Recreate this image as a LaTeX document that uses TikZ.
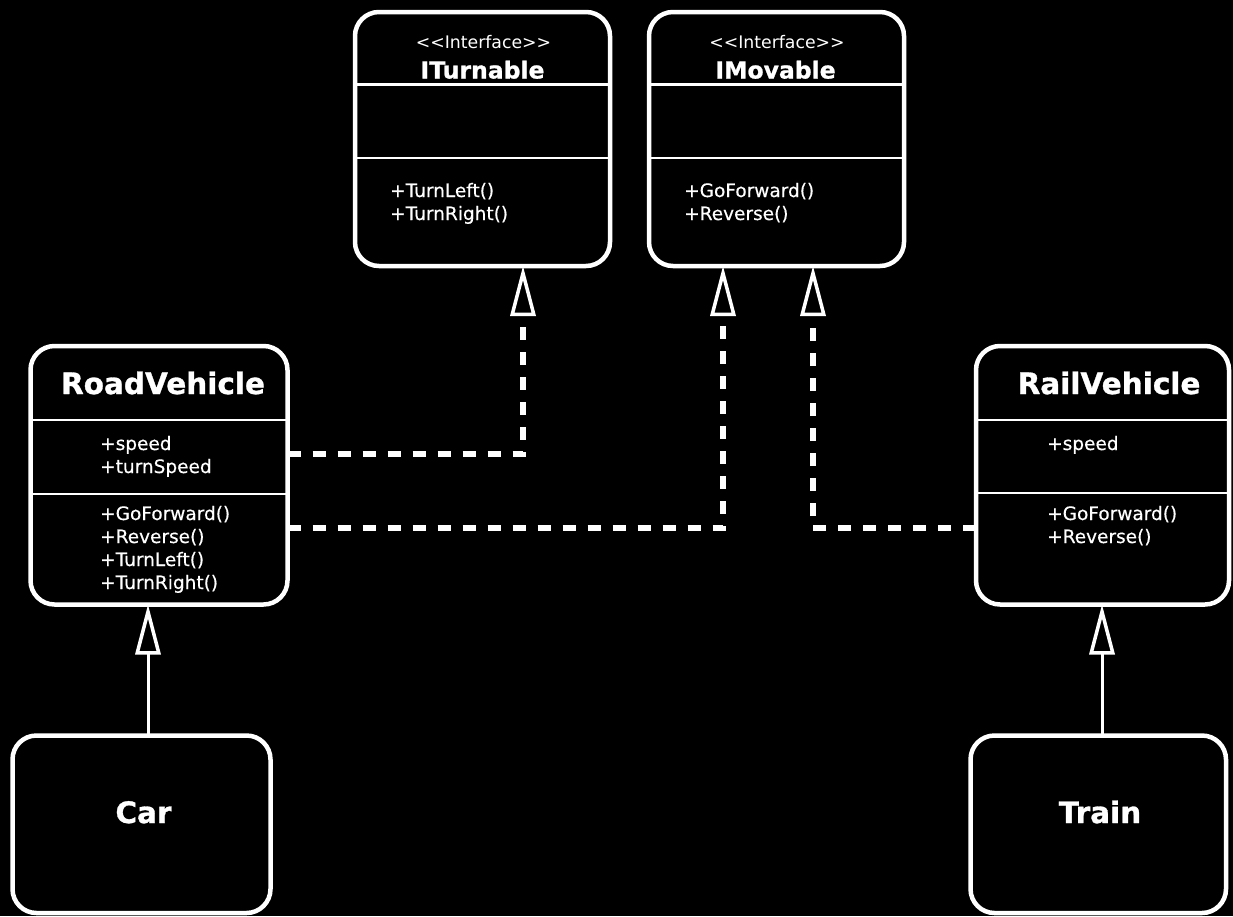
\documentclass[tikz,border=0pt]{standalone}
\usepackage{fontspec}
\setmainfont{DejaVu Sans}
\newfontfamily\heavyfont{DejaVu Sans Bold}[FakeBold=1]
\newfontfamily\medfont{DejaVu Sans}[FakeBold=0.4]
\usetikzlibrary{arrows.meta}
\begin{document}
\begin{tikzpicture}[x=1pt,y=-1pt,
  box/.style={draw=white, fill=black, line width=4.5pt, rounded corners=24pt, inner sep=0pt, outer sep=0pt},
  divider/.style={draw=white, line width=2.5pt},
  title/.style={text=white, font=\heavyfont\fontsize{29.5}{34}\selectfont, anchor=base, inner sep=0pt},
  ititle/.style={text=white, font=\heavyfont\fontsize{23.5}{26}\selectfont, anchor=base, inner sep=0pt},
  stereo/.style={text=white, font=\fontsize{17.3}{20}\selectfont, anchor=base, inner sep=0pt},
  member/.style={text=white, font=\medfont\fontsize{18.5}{23}\selectfont, anchor=base west, inner sep=0pt},
  realize/.style={draw=white, line width=5.5pt, dash pattern=on 13pt off 12pt, -{Triangle[open, length=50pt, width=25pt, line width=3.5pt]}},
  inherit/.style={draw=white, line width=3pt, -{Triangle[open, length=50pt, width=25pt, line width=3.5pt]}},
]
\fill[black] (0,0) rectangle (1233,916);
\useasboundingbox (0,0) rectangle (1233,916);

% box centres
\path
  (482.5,139) coordinate (c1)
  (776.5,139) coordinate (c2)
  (159,475.25) coordinate (c3)
  (1102.5,475.25) coordinate (c4)
  (141.5,824.25) coordinate (c5)
  (1098.25,824.25) coordinate (c6);

\node[box, minimum width=255pt, minimum height=254pt] (iturn) at (c1) {};
\node[box, minimum width=255pt, minimum height=254pt] (imov) at (c2) {};
\node[box, minimum width=257pt, minimum height=258.5pt] (road) at (c3) {};
\node[box, minimum width=253pt, minimum height=258.5pt] (rail) at (c4) {};
\node[box, minimum width=258pt, minimum height=177.5pt] (car) at (c5) {};
\node[box, minimum width=255.5pt, minimum height=177.5pt] (train) at (c6) {};

% connectors
\draw[realize] (road.east |- 0,454) -| ([xshift=40.5pt]iturn.south);
\draw[realize] (road.east |- 0,528) -| ([xshift=-53.5pt]imov.south);
\draw[realize] (rail.west |- 0,528) -| ([xshift=36.5pt]imov.south);
\draw[inherit] (car.north -| 148,0) -- (road.south -| 148,0);
\draw[inherit] (train.north -| 1102,0) -- (rail.south -| 1102,0);

% dividers
\draw[divider] (iturn.west |- 0,84.5) -- (iturn.east |- 0,84.5);
\draw[divider] (iturn.west |- 0,158) -- (iturn.east |- 0,158);
\draw[divider] (imov.west |- 0,84.5) -- (imov.east |- 0,84.5);
\draw[divider] (imov.west |- 0,158) -- (imov.east |- 0,158);
\draw[divider] (road.west |- 0,420) -- (road.east |- 0,420);
\draw[divider] (road.west |- 0,494) -- (road.east |- 0,494);
\draw[divider] (rail.west |- 0,420) -- (rail.east |- 0,420);
\draw[divider] (rail.west |- 0,493) -- (rail.east |- 0,493);

% texts
\node[stereo] (st1) at (483.5,48) {<{}<Interface>{}>};
\node[ititle] (t1) at (482.5,78.5) {ITurnable};
\node[member] (m11) at (390,197) {+TurnLeft()};
\node[member] (m12) at (390,220) {+TurnRight()};

\node[stereo] (st2) at (777,48) {<{}<Interface>{}>};
\node[ititle] (t2) at (775.5,78.5) {IMovable};
\node[member] (m21) at (684,197) {+GoForward()};
\node[member] (m22) at (684,220) {+Reverse()};

\node[title] (t3) at (163,394) {RoadVehicle};
\node[member] (a31) at (100,450) {+speed};
\node[member] (a32) at (100,473) {+turnSpeed};
\node[member] (m31) at (100,520) {+GoForward()};
\node[member] (m32) at (100,543) {+Reverse()};
\node[member] (m33) at (100,566) {+TurnLeft()};
\node[member] (m34) at (100,589) {+TurnRight()};

\node[title] (t4) at (1109,394) {RailVehicle};
\node[member] (a41) at (1047,450) {+speed};
\node[member] (m41) at (1047,520) {+GoForward()};
\node[member] (m42) at (1047,543) {+Reverse()};

\node[title] (t5) at (143.5,823) {Car};
\node[title] (t6) at (1100,823) {Train};
\end{tikzpicture}
\end{document}
